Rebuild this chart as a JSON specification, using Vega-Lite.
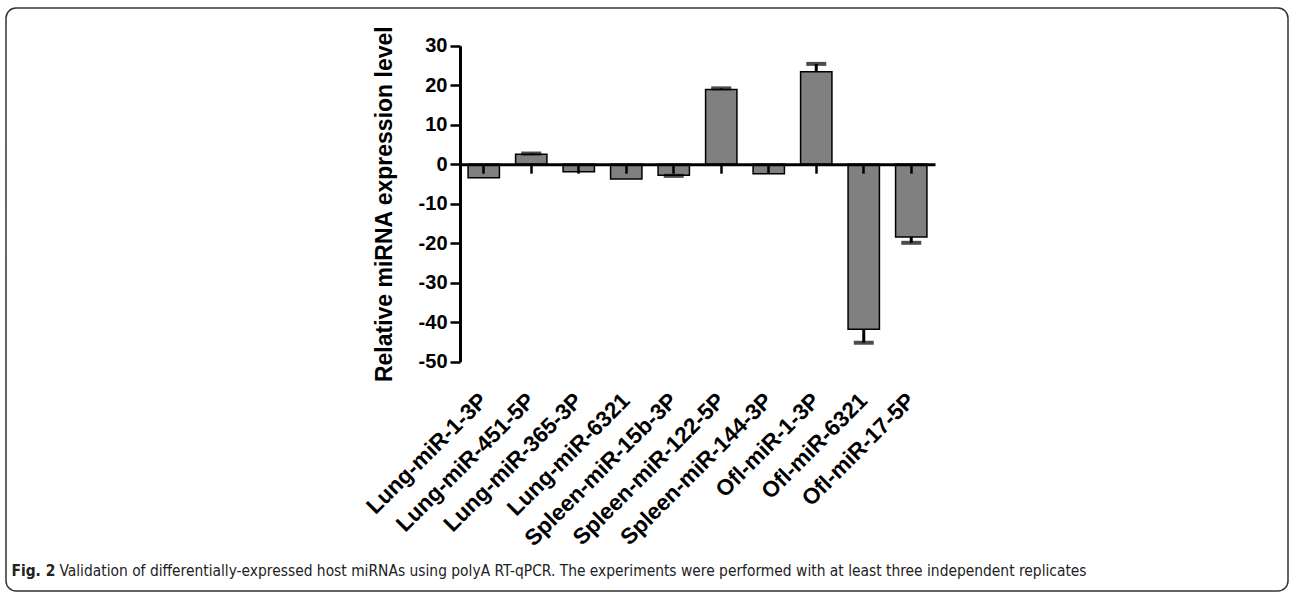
{
  "$schema": "https://vega.github.io/schema/vega-lite/v6.json",
  "width": 1282,
  "height": 583,
  "autosize": {"type": "none"},
  "padding": {"left": 6, "top": 8, "right": 2, "bottom": 1},
  "background": "white",
  "config": {
    "view": {"stroke": "#333333", "strokeWidth": 1.5, "cornerRadius": 10, "fill": "white"},
    "font": "Liberation Sans"
  },
  "data": {
    "values": [
      {"name": "Lung-miR-1-3P", "value": -3.4, "cap": null},
      {"name": "Lung-miR-451-5P", "value": 2.5, "cap": 2.7},
      {"name": "Lung-miR-365-3P", "value": -1.9, "cap": null},
      {"name": "Lung-miR-6321", "value": -3.75, "cap": null},
      {"name": "Spleen-miR-15b-3P", "value": -2.8, "cap": -2.95},
      {"name": "Spleen-miR-122-5P", "value": 18.9, "cap": 19.2},
      {"name": "Spleen-miR-144-3P", "value": -2.4, "cap": null},
      {"name": "Ofl-miR-1-3P", "value": 23.4, "cap": 25.4},
      {"name": "Ofl-miR-6321", "value": -41.8, "cap": -45.2},
      {"name": "Ofl-miR-17-5P", "value": -18.4, "cap": -19.9}
    ]
  },
  "resolve": {"axis": {"x": "independent", "y": "independent"}},
  "layer": [
    {
      "mark": {"type": "bar", "fill": "#808080", "stroke": "#000000", "strokeWidth": 1.5},
      "encoding": {
        "x": {
          "field": "name", "type": "nominal", "sort": null,
          "scale": {"range": [454, 929], "paddingInner": 0.34, "paddingOuter": 0.17},
          "axis": {
            "orient": "bottom", "offset": -229.3, "domain": false, "ticks": false, "tickSize": 0,
            "labelAngle": -45, "labelAlign": "right", "labelBaseline": "middle", "labelLimit": 0,
            "labelPadding": 35, "labelFont": "Liberation Sans", "labelFontWeight": "bold",
            "labelFontSize": 22.5, "labelColor": "#000000",
            "title": "Fig. 2", "titleFont": "DejaVu Sans Condensed, Open Sans",
            "titleFontWeight": "bold", "titleFontSize": 15.4, "titleColor": "#222222",
            "titleAngle": 0, "titleAlign": "left", "titleBaseline": "alphabetic",
            "titleX": 5, "titleY": 213.3
          }
        },
        "y": {
          "field": "value", "type": "quantitative",
          "scale": {"domain": [-50, 30], "range": [353.7, 37.7], "nice": false, "zero": false},
          "axis": {
            "orient": "left", "offset": -454, "values": [-50, -40, -30, -20, -10, 0, 10, 20, 30],
            "labelExpr": "datum.value + ''",
            "grid": false, "domainColor": "#000000", "domainWidth": 3,
            "tickColor": "#000000", "tickWidth": 2.5, "tickSize": 10,
            "labelPadding": 3, "labelFont": "Liberation Sans", "labelFontWeight": "bold",
            "labelFontSize": 20, "labelColor": "#000000",
            "title": "Relative miRNA expression level", "titleFont": "Liberation Sans",
            "titleFontWeight": "bold", "titleFontSize": 23, "titleColor": "#000000",
            "titlePadding": 22
          }
        }
      }
    },
    {
      "transform": [{"filter": "datum.cap != null"}],
      "mark": {"type": "rule", "color": "#000000", "strokeWidth": 3},
      "encoding": {
        "x": {
          "field": "name", "type": "nominal", "sort": null,
          "scale": {"range": [454, 929], "paddingInner": 0.34, "paddingOuter": 0.17},
          "axis": {
            "orient": "bottom", "offset": -426.8, "zindex": 1, "domain": true,
            "domainColor": "#000000", "domainWidth": 3, "ticks": true, "tickSize": 9,
            "tickWidth": 2.5, "tickColor": "#000000", "labels": false, "grid": false,
            "title": "Validation of differentially-expressed host miRNAs using polyA RT-qPCR. The experiments were performed with at least three independent replicates",
            "titleFont": "DejaVu Sans Condensed, Open Sans",
            "titleFontWeight": "normal", "titleFontSize": 15.4, "titleColor": "#222222",
            "titleAngle": 0, "titleAlign": "left", "titleBaseline": "alphabetic",
            "titleX": 53, "titleY": 410.8
          }
        },
        "y": {
          "field": "value", "type": "quantitative",
          "scale": {"domain": [-50, 30], "range": [353.7, 37.7], "nice": false, "zero": false},
          "axis": null
        },
        "y2": {"field": "cap"}
      }
    },
    {
      "transform": [{"filter": "datum.cap != null"}],
      "mark": {"type": "tick", "color": "#000000", "size": 20, "thickness": 4, "orient": "horizontal"},
      "encoding": {
        "x": {
          "field": "name", "type": "nominal", "sort": null,
          "scale": {"range": [454, 929], "paddingInner": 0.34, "paddingOuter": 0.17},
          "axis": null
        },
        "y": {
          "field": "cap", "type": "quantitative",
          "scale": {"domain": [-50, 30], "range": [353.7, 37.7], "nice": false, "zero": false},
          "axis": null
        }
      }
    }
  ]
}
